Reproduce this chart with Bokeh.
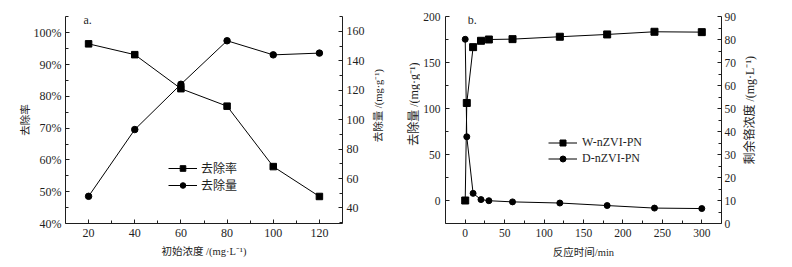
import math
from bokeh.plotting import figure
from bokeh.models import (Range1d, LinearAxis, FixedTicker, Legend, LegendItem, Label)
from bokeh.layouts import row
from bokeh.embed import file_html
from bokeh.resources import INLINE

# ---------------- data ----------------
conc = [20, 40, 60, 80, 100, 120]
removal_rate = [96.5, 93.1, 82.4, 76.9, 57.9, 48.5]          # %
removal_amount = [47.9, 93.3, 124.1, 153.7, 144.1, 145.3]    # mg/g

time_min = [0, 2, 10, 20, 30, 60, 120, 180, 240, 300]
w_amount = [0, 106, 166.7, 173.6, 175.0, 175.4, 178.0, 180.5, 183.4, 183.0]   # mg/g
d_conc = [80.1, 37.7, 13.1, 10.4, 9.9, 9.4, 8.9, 7.8, 6.7, 6.5]               # mg/L

x1_ticks = [20, 40, 60, 80, 100, 120]
y1_ticks = [40, 50, 60, 70, 80, 90, 100]
y1r_ticks = [40, 60, 80, 100, 120, 140, 160]
x2_ticks = [0, 50, 100, 150, 200, 250, 300]
y2_ticks = [0, 50, 100, 150, 200]
y2r_ticks = [0, 10, 20, 30, 40, 50, 60, 70, 80, 90]

SERIF = "Liberation Serif"
MIXED = "Liberation Serif, Noto Sans CJK SC"
CJK = "Noto Sans CJK SC"
INK = "#1e1e1e"
H = 267


def style_axis(ax, size="12px"):
    ax.axis_line_color = INK
    ax.axis_line_width = 1
    ax.major_tick_line_color = INK
    ax.minor_tick_line_color = INK
    ax.major_tick_in = 4
    ax.major_tick_out = 0
    ax.minor_tick_in = 3
    ax.minor_tick_out = 0
    ax.major_label_text_font = SERIF
    ax.major_label_text_font_size = size
    ax.major_label_text_color = INK
    ax.axis_label_text_font = MIXED
    ax.axis_label_text_font_size = "10.5px"
    ax.axis_label_text_font_style = "normal"
    ax.axis_label_text_color = INK


def label_strip(width, cx, cy_from_top, text, size):
    """A narrow blank figure holding one vertical (bottom-to-top) axis title."""
    f = figure(width=width, height=H, output_backend="svg", toolbar_location=None,
               x_range=Range1d(0, width), y_range=Range1d(0, H),
               x_axis_type=None, y_axis_type=None,
               min_border=0, min_border_left=0, min_border_right=0,
               min_border_top=0, min_border_bottom=0)
    f.outline_line_color = None
    f.xgrid.visible = False
    f.ygrid.visible = False
    f.background_fill_color = "white"
    f.border_fill_color = "white"
    f.add_layout(Label(x=cx, y=H - cy_from_top, text=text, angle=math.pi / 2,
                       text_align="center", text_baseline="middle",
                       text_font=MIXED, text_font_size=size, text_color=INK))
    return f


# ---------------- panel a ----------------
p1 = figure(width=368, height=H, output_backend="svg", toolbar_location=None,
            x_range=Range1d(10, 130), y_range=Range1d(40, 105.1),
            min_border_left=65, min_border_right=26, min_border_top=16, min_border_bottom=44)
p1.extra_y_ranges = {"amt": Range1d(29.4, 170.2)}
p1.outline_line_color = None
p1.xgrid.visible = False
p1.ygrid.visible = False
p1.background_fill_color = "white"
p1.border_fill_color = "white"

xa = p1.xaxis[0]
xa.ticker = FixedTicker(ticks=x1_ticks, minor_ticks=[30, 50, 70, 90, 110])
xa.axis_label = "初始浓度 /(mg·L⁻¹)"
style_axis(xa)
xa.major_label_standoff = 5
xa.axis_label_standoff = 6

ya = p1.yaxis[0]
ya.ticker = FixedTicker(ticks=y1_ticks, minor_ticks=[45, 55, 65, 75, 85, 95, 105])
ya.major_label_overrides = {t: f"{t}%" for t in y1_ticks}
ya.axis_label = "去除率"
style_axis(ya)
ya.major_label_standoff = 4
ya.axis_label_standoff = 0

yr = LinearAxis(y_range_name="amt")
yr.ticker = FixedTicker(ticks=y1r_ticks, minor_ticks=[30, 50, 70, 90, 110, 130, 150, 170])
style_axis(yr)
yr.major_label_standoff = 4
p1.add_layout(yr, "right")

l1 = p1.line(conc, removal_rate, line_color="black", line_width=1)
s1 = p1.scatter(conc, removal_rate, marker="square", size=6.5, color="black")
l2 = p1.line(conc, removal_amount, line_color="black", line_width=1, y_range_name="amt")
s2 = p1.scatter(conc, removal_amount, marker="circle", size=6.5, color="black", y_range_name="amt")

leg1 = Legend(items=[LegendItem(label="去除率", renderers=[l1, s1]),
                     LegendItem(label="去除量", renderers=[l2, s2])],
              location=(103, 30), glyph_width=29, glyph_height=14, label_height=14,
              label_standoff=4, spacing=-3, padding=0, margin=0,
              border_line_alpha=0, background_fill_alpha=0,
              label_text_font=CJK, label_text_font_size="12px", label_text_color=INK)
p1.add_layout(leg1)

p1.add_layout(Label(x=17.8, y=104.1, text="a.", text_font=SERIF, text_font_size="12px",
                    text_baseline="middle", text_color=INK))

lab1 = label_strip(28, 10, 115, "去除量 /(mg·g⁻¹)", "10.5px")
lab3 = label_strip(24, 17, 113, "去除量 /(mg·g⁻¹)", "12px")

# ---------------- panel b ----------------
p2 = figure(width=320, height=H, output_backend="svg", toolbar_location=None,
            x_range=Range1d(-25, 325), y_range=Range1d(-25, 200),
            min_border_left=23, min_border_right=19, min_border_top=16, min_border_bottom=44)
p2.extra_y_ranges = {"conc": Range1d(0, 90)}
p2.outline_line_color = None
p2.xgrid.visible = False
p2.ygrid.visible = False
p2.background_fill_color = "white"
p2.border_fill_color = "white"

xb = p2.xaxis[0]
xb.ticker = FixedTicker(ticks=x2_ticks, minor_ticks=[25, 75, 125, 175, 225, 275])
xb.axis_label = "反应时间/min"
style_axis(xb, "11.5px")
xb.major_label_standoff = 5
xb.axis_label_standoff = 7

yb = p2.yaxis[0]
yb.ticker = FixedTicker(ticks=y2_ticks, minor_ticks=[-25, 25, 75, 125, 175])
style_axis(yb, "11.5px")
yb.major_label_standoff = 5

ybr = LinearAxis(y_range_name="conc")
ybr.ticker = FixedTicker(ticks=y2r_ticks, minor_ticks=[5, 15, 25, 35, 45, 55, 65, 75, 85])
style_axis(ybr, "11.5px")
ybr.major_label_standoff = 3
p2.add_layout(ybr, "right")

l3 = p2.line(time_min, w_amount, line_color="black", line_width=1)
s3 = p2.scatter(time_min, w_amount, marker="square", size=7, color="black")
l4 = p2.line(time_min, d_conc, line_color="black", line_width=1, y_range_name="conc")
s4 = p2.scatter(time_min, d_conc, marker="circle", size=6, color="black", y_range_name="conc")

leg2 = Legend(items=[LegendItem(label="W-nZVI-PN", renderers=[l3, s3]),
                     LegendItem(label="D-nZVI-PN", renderers=[l4, s4])],
              location=(103, 57), glyph_width=29, glyph_height=15, label_height=15,
              label_standoff=5, spacing=1, padding=0, margin=0,
              border_line_alpha=0, background_fill_alpha=0,
              label_text_font=SERIF, label_text_font_size="12px", label_text_color=INK)
p2.add_layout(leg2)

p2.add_layout(Label(x=3.2, y=196.7, text="b.", text_font=SERIF, text_font_size="12px",
                    text_baseline="middle", text_color=INK))

lab2 = label_strip(20, 9, 121, "剩余铬浓度 /(mg·L⁻¹)", "12px")

layout = row(p1, lab1, lab3, p2, lab2)
open("out.html", "w").write(file_html(layout, INLINE))
